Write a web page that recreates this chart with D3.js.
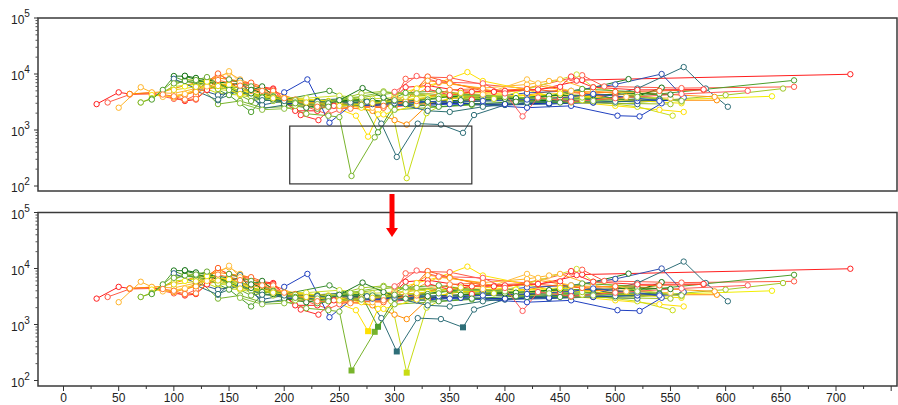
<!DOCTYPE html>
<html>
<head>
<meta charset="utf-8">
<script src="https://cdn.jsdelivr.net/npm/d3@7"></script>
<style>
  body { margin: 0; background: #fff; }
  svg { display: block; font-family: "Liberation Sans", Arial, sans-serif; }
</style>
</head>
<body>
<div id="main"></div>
<script>
// x ticks (labels only on the lower panel)
const xTicks = [0, 50, 100, 150, 200, 250, 300, 350, 400, 450, 500, 550, 600, 650, 700];
const yDecades = [100, 1000, 10000, 100000];
// gate drawn in the upper panel: x range and value range
const gateX = [205, 370];
const gateY = [109, 1175];

const seriesColors = [
    "#ff1e1e", "#ff5a46", "#ff2d2d", "#ff8c00", "#ffb428", "#ffe000", "#f2ee00",
    "#c8dc14", "#a0c828", "#78b42c", "#4c9e2c", "#1e7a1e", "#0a6e0a", "#2e6e78",
    "#2a5f8a", "#2040c0", "#1030b0", "#3050b0", "#ff6020", "#ff9a10", "#ffc040",
    "#f6e200", "#d0e030", "#98c020", "#5aa530", "#207820", "#3c9030", "#2b6f6f",
    "#2a4cc0", "#8cc040", "#ff3030", "#ff5a5a", "#ff7a30", "#6aaa30", "#e0d010"
];

const seriesPoints = [
    [[30,2900],[50,4700],[60,4400],[80,4600],[90,4100],[100,3800],[110,3300],[120,3500],[130,5200],[140,6500],[160,6500],[170,6200],[190,5500],[200,3500],[210,2200],[230,2200],[240,2800],[260,3200],[280,2700],[300,3800],[310,5800],[330,6200],[360,5000],[390,4800],[430,5200],[470,7800],[713,9900]],
    [[40,3100],[60,4300],[80,4400],[100,3600],[110,3400],[120,4200],[140,9800],[150,8000],[170,6500],[190,4500],[200,3000],[220,2600],[240,1900],[250,2300],[270,2900],[300,3500],[310,8200],[330,8800],[350,8600],[380,6500],[420,5500],[460,8500],[470,9500],[490,6000],[560,5600],[662,5900]],
    [[160,5000],[180,5500],[190,5300],[200,3200],[215,1850],[231,1500],[245,2700],[270,3200],[300,2600],[330,3000],[370,3500],[410,3300],[450,3800],[500,4200]],
    [[60,4400],[90,4800],[100,5500],[120,7000],[140,8500],[160,7500],[180,4500],[200,3400],[230,2800],[260,2500],[280,2200],[300,1500],[311,1250],[330,2800],[350,3600],[380,4200],[420,4200],[450,5200],[470,4600],[500,3600],[520,3400],[592,3400]],
    [[50,2500],[70,5800],[80,4700],[100,4500],[120,5500],[130,7800],[150,10500],[160,8000],[180,5500],[200,3500],[220,3300],[250,3000],[280,2500],[300,2700],[320,4500],[340,7000],[380,5600],[420,6500],[440,7500],[450,8000],[480,5000],[520,4000],[560,3300]],
    [[80,4200],[100,3900],[120,5200],[140,6800],[160,5000],[200,3300],[240,2800],[265,1800],[276,760],[285,1900],[300,4200],[320,5500],[340,7000],[366,10800],[380,7500],[420,5200],[460,3200],[500,2700],[540,2300],[562,2100]],
    [[110,6000],[130,7500],[150,5500],[170,4500],[200,3800],[230,3400],[260,3600],[290,3200],[330,3800],[370,4800],[410,4200],[460,4000],[520,3300],[642,4000]],
    [[70,3100],[80,3700],[100,6000],[120,6500],[140,4500],[160,4200],[180,3500],[200,3100],[230,3200],[260,3500],[297,2600],[311,138],[329,2000],[350,3300],[390,3600],[430,3800],[470,3400],[520,2600],[552,1800]],
    [[90,4700],[110,8000],[130,7500],[150,6000],[170,4000],[190,3300],[210,2700],[240,3100],[270,4500],[290,4900],[310,4300],[340,4000],[380,3600],[420,3500],[470,3800],[520,3100],[600,4200],[652,5500]],
    [[70,3100],[80,3600],[100,7500],[120,7000],[140,2900],[160,3300],[180,2500],[200,2600],[220,1950],[240,1800],[250,1700],[261,151],[282,740],[300,2300],[330,2500],[370,2800],[420,3000],[480,3300],[540,5000]],
    [[80,3500],[90,5200],[100,9000],[110,7500],[130,6500],[150,4200],[170,2100],[180,3500],[200,3200],[230,3000],[250,3400],[270,3300],[285,910],[300,2900],[330,3500],[360,4200],[400,3800],[440,3500],[500,3800],[540,4400],[662,7700]],
    [[100,9200],[110,9100],[130,7000],[150,6000],[160,7000],[170,4500],[190,3500],[210,3300],[230,3300],[260,3200],[290,3000],[320,3400],[350,4000],[380,3800],[410,3700],[450,4200],[512,8100]],
    [[110,9300],[120,8500],[140,7200],[160,6500],[180,4500],[200,3400],[220,3300],[240,3200],[270,3500],[300,3200],[340,3000],[380,3300],[420,3400],[460,3300],[520,4000],[542,5700]],
    [[120,5000],[140,3400],[160,7600],[180,2400],[200,2800],[220,3300],[250,3600],[275,3200],[288,1300],[302,330],[321,1300],[342,1250],[362,890],[372,1850],[400,2800],[440,3100],[480,3500],[520,5500],[562,13300],[582,5500],[602,2600]],
    [[100,8200],[120,5500],[140,4200],[160,5000],[180,2800],[200,3300],[230,3200],[260,2900],[290,2700],[320,3100],[360,3000],[400,2800],[440,2900],[480,3100],[520,2900]],
    [[200,4700],[221,8000],[241,1350],[260,2700],[290,2800],[320,2700],[350,2900],[380,2800],[420,2500],[460,2700],[502,1800],[522,1750],[542,3000]],
    [[200,3000],[240,2800],[280,2900],[320,2900],[360,3000],[400,2900],[440,3000],[480,3100],[520,3300],[560,3400]],
    [[380,3800],[420,4600],[460,5000],[500,6500],[542,10000],[562,3800]],
    [[110,4200],[120,5000],[140,10200],[150,7500],[170,7000],[190,5000],[210,3500],[230,3000],[260,2700],[290,2500],[310,3300],[330,9000],[350,7000],[380,5000],[420,5400],[470,4500],[500,4800],[540,5000],[580,5200]],
    [[100,3800],[120,4800],[150,6500],[170,5000],[200,3600],[230,3100],[260,2800],[300,3100],[330,7600],[350,6800],[400,4600],[430,6200],[460,4900],[520,4600],[590,3900]],
    [[90,3900],[110,4400],[130,6000],[150,11200],[160,7000],[190,4200],[220,3500],[270,2900],[300,3600],[340,4800],[380,4300],[420,8000],[430,6800],[460,5000],[510,3900],[550,3700]],
    [[130,7300],[150,6400],[180,3900],[200,3700],[240,3300],[270,2500],[290,1900],[320,2800],[360,3900],[400,3900],[450,4500],[500,3500],[560,3000]],
    [[140,5300],[160,4800],[190,3800],[220,3700],[250,4100],[280,3600],[310,3900],[350,4300],[400,4100],[465,9800],[480,5800],[520,4200],[560,3200]],
    [[120,6800],[140,5400],[160,5800],[180,3900],[210,3400],[240,3200],[270,3800],[300,4600],[340,4000],[380,3400],[420,3300],[460,3100],[500,3000],[550,2900]],
    [[150,8000],[170,6000],[190,4000],[210,3100],[230,2400],[260,2900],[290,3100],[310,4600],[340,5000],[360,4400],[400,3900],[430,3700],[470,5400],[520,4800]],
    [[170,5200],[180,6000],[200,2900],[220,2500],[240,3000],[250,3400],[271,5600],[290,3800],[300,3300],[330,3200],[360,3400],[400,3600],[440,4100],[480,4200],[520,4500],[550,4300]],
    [[120,7500],[140,6800],[160,4600],[180,3800],[200,3500],[241,5000],[260,3400],[280,3300],[310,2900],[340,2600],[370,2900],[410,3200],[450,3100],[500,3500],[540,3600]],
    [[140,3500],[160,5100],[180,3400],[200,3300],[230,3200],[260,3100],[300,3000],[330,2200],[350,2100],[380,2600],[420,3100],[460,3400],[500,3200],[540,3500]],
    [[300,3300],[340,3200],[380,3300],[420,3500],[460,3900],[480,4400],[520,3700],[540,3300]],
    [[160,3000],[180,2300],[200,2400],[230,2900],[260,3700],[290,4700],[320,4500],[350,4200],[400,3900],[440,3600],[480,3300],[520,3900],[560,3300]],
    [[330,5400],[350,4200],[370,4800],[400,5000],[430,5300],[450,5900],[460,9000],[465,7600],[480,5800],[520,5200],[580,5300]],
    [[300,4800],[320,9200],[340,7200],[380,6800],[400,4500],[416,1750],[430,3800],[460,3200],[500,3700],[560,4400],[620,5000]],
    [[90,4300],[100,4000],[110,3500],[120,3600],[140,7800],[160,6200],[180,5000],[200,3700],[230,2600],[260,2400],[290,2700],[320,3300],[350,5200],[380,5500]],
    [[100,6800],[120,7800],[130,8800],[150,5200],[170,3300],[190,3900],[210,3000],[240,2600],[270,2800],[300,3400],[340,3600]],
    [[100,5200],[120,5900],[140,6100],[160,4400],[190,3700],[220,3100],[250,2700],[280,3000],[320,3600],[360,4600]]
];

const W = 898, H = 405;
const FRAME_LEFT = 38, FRAME_RIGHT = 897;
const panels = [
    { top: 18, bottom: 191, yTop: 18, yBottom: 186, showX: false, gateMarks: false, drawGate: true },
    { top: 212.5, bottom: 386, yTop: 212.5, yBottom: 380.5, showX: true, gateMarks: true, drawGate: false }
];

const svg = d3.select("#main").append("svg").attr("width", W).attr("height", H);
const x = d3.scaleLinear().domain([0, 700]).range([63.5, 836]);

function inGate(p) {
    return p[0] >= gateX[0] && p[0] <= gateX[1] && p[1] >= gateY[0] && p[1] <= gateY[1];
}

panels.forEach(function(P, i) {
    const y = d3.scaleLog().domain([100, 100000]).range([P.yBottom, P.yTop]);
    const g = svg.append("g");

    g.append("clipPath").attr("id", "clip" + i)
        .append("rect")
        .attr("x", FRAME_LEFT).attr("y", P.top)
        .attr("width", FRAME_RIGHT - FRAME_LEFT).attr("height", P.bottom - P.top);

    const plot = g.append("g").attr("clip-path", "url(#clip" + i + ")");
    const line = d3.line().x(d => x(d[0])).y(d => y(d[1]));

    seriesPoints.forEach(function(pts, k) {
        plot.append("path")
            .attr("d", line(pts))
            .attr("fill", "none")
            .attr("stroke", seriesColors[k])
            .attr("stroke-width", 1);
    });

    seriesPoints.forEach(function(pts, k) {
        const c = seriesColors[k];
        pts.forEach(function(p) {
            if (P.gateMarks && inGate(p)) {
                plot.append("rect")
                    .attr("x", x(p[0]) - 3).attr("y", y(p[1]) - 3)
                    .attr("width", 6).attr("height", 6)
                    .attr("fill", c);
            } else {
                plot.append("circle")
                    .attr("cx", x(p[0])).attr("cy", y(p[1]))
                    .attr("r", 2.7)
                    .attr("fill", "#fff")
                    .attr("stroke", c)
                    .attr("stroke-width", 1);
            }
        });
    });

    if (P.drawGate) {
        g.append("rect")
            .attr("x", x(gateX[0])).attr("y", y(gateY[1]))
            .attr("width", x(gateX[1]) - x(gateX[0]))
            .attr("height", y(gateY[0]) - y(gateY[1]))
            .attr("fill", "none")
            .attr("stroke", "#333")
            .attr("stroke-width", 1.2);
    }

    // frame
    g.append("rect")
        .attr("x", FRAME_LEFT).attr("y", P.top)
        .attr("width", FRAME_RIGHT - FRAME_LEFT).attr("height", P.bottom - P.top)
        .attr("fill", "none")
        .attr("stroke", "#3a3a3a")
        .attr("stroke-width", 1.5);

    // y ticks: decades and minor 2..9
    yDecades.forEach(function(dv, j) {
        g.append("line")
            .attr("x1", FRAME_LEFT - 4).attr("x2", FRAME_LEFT)
            .attr("y1", y(dv)).attr("y2", y(dv))
            .attr("stroke", "#333");
        if (j < yDecades.length - 1) {
            d3.range(2, 10).forEach(function(m) {
                g.append("line")
                    .attr("x1", FRAME_LEFT - 2.5).attr("x2", FRAME_LEFT)
                    .attr("y1", y(dv * m)).attr("y2", y(dv * m))
                    .attr("stroke", "#555");
            });
        }
        const t = g.append("text")
            .attr("x", 11).attr("y", y(dv) + 6)
            .attr("font-size", 12).attr("fill", "#222");
        t.append("tspan").text("10");
        t.append("tspan").attr("dy", -7).attr("font-size", 10).text(Math.round(Math.log10(dv)));
    });

    if (P.showX) {
        d3.range(0, 876, 25).forEach(function(v) {
            const major = v % 50 === 0;
            g.append("line")
                .attr("x1", x(v)).attr("x2", x(v))
                .attr("y1", P.bottom).attr("y2", P.bottom + (major ? 5 : 3))
                .attr("stroke", "#333");
        });
        xTicks.forEach(function(v) {
            g.append("text")
                .attr("x", x(v)).attr("y", P.bottom + 16)
                .attr("text-anchor", "middle")
                .attr("font-size", 12).attr("fill", "#222")
                .text(v);
        });
    }
});

// red arrow between the panels
const arrow = svg.append("g").attr("fill", "#f00");
arrow.append("rect").attr("x", 389.5).attr("y", 194).attr("width", 5).attr("height", 35);
arrow.append("path").attr("d", "M386,228 L398,228 L392,237 Z");
</script>
</body>
</html>
